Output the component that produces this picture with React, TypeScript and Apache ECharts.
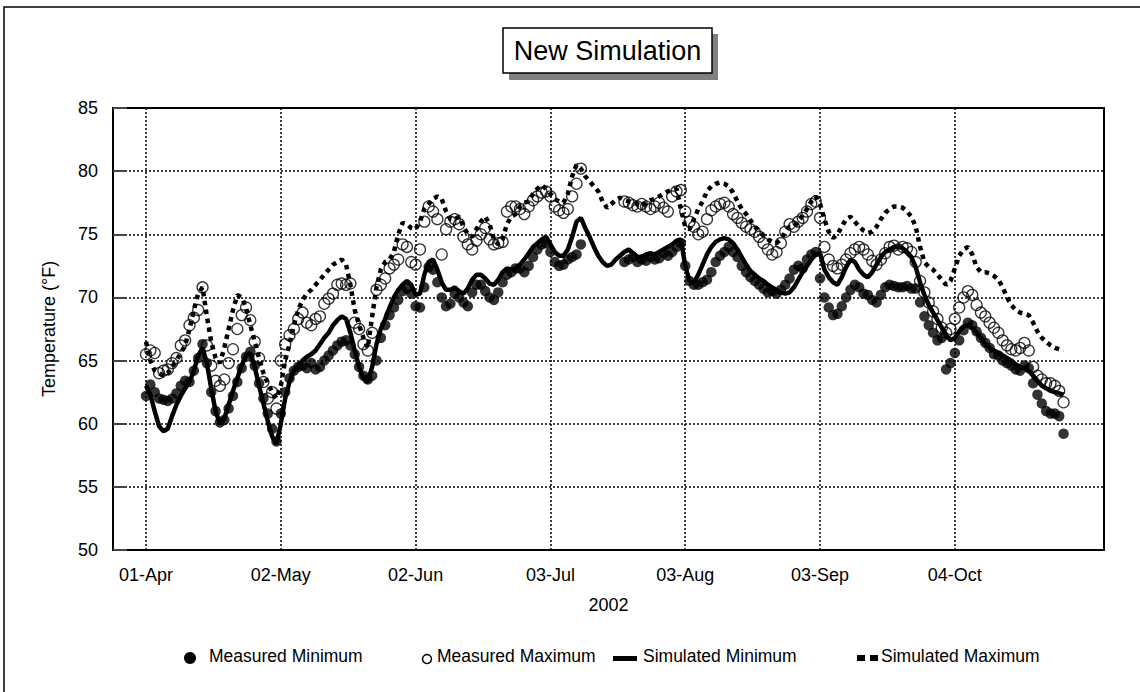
import React, { useEffect, useRef } from "react";
import * as echarts from "echarts";

const FONT = '"Liberation Sans", Arial, sans-serif';
const START = Date.UTC(2002, 3, 1); // day 0 = 01-Apr-2002
const MONTHS = ["Jan", "Feb", "Mar", "Apr", "May", "Jun", "Jul", "Aug", "Sep", "Oct", "Nov", "Dec"];
const tickDays = [0, 31, 62, 93, 124, 155, 186];
const xMin = -7.59;
const xMax = 220.3;

// Daily values (index = days since 01-Apr-2002); null = no measurement
const measuredMin = [
  62.2, 63.1, 62.5, 62.0, 61.9, 61.8, 62.0, 62.4, 63.0, 63.4,
  63.3, 64.2, 65.2, 66.3, 64.8, 62.5, 61.0, 60.1, 60.3, 61.2,
  62.2, 63.3, 64.4, 65.3, 65.7, 64.6, 63.2, 62.0, 60.8, 59.6,
  58.6, 60.8, 62.5, 63.6, 64.2, 64.5, 64.6, 64.4, 64.8, 64.3,
  64.5, 65.0, 65.4, 65.8, 66.2, 66.5, 66.6, 66.2, 65.5, 64.5,
  63.8, 63.5, 63.8, 65.0, 66.8, 67.8, 68.6, 69.2, 69.8, 70.5,
  70.7, 70.3, 69.3, 69.2, 70.8, 72.4, 72.2, 71.2, 70.0, 69.3,
  69.5, 70.3, 70.0, 69.6, 69.3, 70.4, 71.0, 71.0, 70.5, 70.0,
  69.8, 70.4, 71.2, 71.8, 72.0, 72.3, 72.3, 72.0, 72.5, 73.2,
  73.8, 74.2, 74.3, 73.6, 72.8, 72.5, 72.6, 73.0, 73.2, 73.4,
  74.2, null, null, null, null, null, null, null, null, null,
  72.8, 73.0, 73.2, 72.8, 73.0, 72.9, 73.2, 73.0, 73.1, 73.5,
  73.3, 73.6, 74.0, 74.3, 72.5, 71.3, 71.0, 71.0, 71.2, 71.4,
  72.0, 72.8, 73.3, 73.6, 74.0, 73.6, 73.2, 72.5, 72.0, 71.6,
  71.3, 71.0, 70.7, 70.4, 70.5, 70.3, 70.6, 71.0, 71.5, 72.2,
  72.5, 72.3, 73.0, 73.4, 73.6, 71.5, 70.0, 69.2, 68.6, 68.7,
  69.3, 70.0, 70.6, 71.0, 70.8, 70.3, 70.2, 69.8, 69.6, 70.2,
  70.8, 71.0, 70.9, 70.8, 70.8, 70.9, 70.7, 70.7, 69.6, 68.5,
  67.8, 67.2, 66.6, 66.8, 64.3, 64.8, 65.6, 66.6, 67.4, 68.0,
  67.8, 67.3, 66.8, 66.4, 66.0, 65.5, 65.4, 65.0, 64.8, 64.6,
  64.3, 64.2, 64.6, 64.4, 63.2, 62.3, 61.6, 61.0, 60.8, 60.8,
  60.6, 59.2,
];

const measuredMax = [
  65.5, 65.8, 65.6, 64.0, 64.2, 64.3, 64.8, 65.2, 66.2, 66.6,
  67.8, 68.4, 69.0, 70.8, 66.2, 64.6, 63.4, 63.0, 63.5, 64.8,
  65.9, 67.5, 68.6, 69.2, 68.2, 66.5, 65.2, 63.3, 62.0, 62.5,
  61.2, 65.0, 66.3, 67.0, 67.5, 68.3, 68.8, 68.0, 67.8, 68.3,
  68.5, 69.5, 69.9, 70.3, 71.0, 71.1, 71.0, 71.1, 68.0, 67.5,
  66.3, 65.8, 67.2, 70.6, 71.0, 71.5, 72.3, 72.6, 73.0, 74.2,
  74.0, 72.8, 72.6, 73.8, 76.0, 77.2, 76.8, 76.2, 73.4, 75.4,
  76.0, 76.2, 75.8, 74.8, 74.2, 73.8, 74.5, 75.0, 75.5, 74.6,
  74.2, 74.3, 74.4, 76.8, 77.2, 77.2, 77.0, 76.6, 77.2, 77.7,
  78.0, 78.3, 78.4, 78.0, 77.2, 76.9, 76.7, 77.0, 78.0, 79.0,
  80.2, null, null, null, null, null, null, null, null, null,
  77.6, 77.5, 77.3, 77.2, 77.4, 77.2, 77.0, 77.2, 77.5, 77.1,
  76.8, 78.0, 78.4, 78.5, 76.8, 76.0, 75.6, 75.0, 75.2, 76.2,
  76.9, 77.2, 77.4, 77.5, 77.2, 76.6, 76.3, 75.9, 75.6, 75.4,
  75.2, 74.8, 74.3, 73.8, 73.4, 73.6, 74.3, 75.2, 75.8, 75.6,
  76.0, 76.3, 76.8, 77.4, 77.6, 76.3, 74.0, 73.0, 72.5, 72.3,
  72.6, 73.0, 73.5, 73.8, 74.0, 73.8, 73.4, 72.9, 72.6, 73.0,
  73.5, 74.0, 74.1, 73.8, 74.0, 73.9, 73.6, 72.8, 71.3, 70.4,
  69.6, 68.9, 68.3, 67.6, 67.2, 67.5, 68.3, 69.2, 70.0, 70.5,
  70.2, 69.4, 68.8, 68.5, 68.0, 67.6, 67.2, 66.6, 66.2, 65.9,
  65.8, 66.0, 66.4, 65.8, 64.5, 63.8, 63.5, 63.2, 63.2, 63.0,
  62.6, 61.7,
];

const simulatedMin = [
  63.0, 62.3, 61.0, 59.8, 59.4, 59.6, 60.6, 61.5, 62.2, 62.8,
  63.3, 64.2, 65.4, 66.0, 64.8, 62.8, 61.0, 60.0, 60.4, 61.5,
  62.6, 63.6, 64.6, 65.4, 65.6, 64.5, 63.0, 61.6, 60.2, 59.0,
  58.4, 60.0, 62.0, 63.3, 64.2, 64.6, 65.0, 65.3, 65.5, 65.8,
  66.3, 66.8, 67.2, 67.8, 68.2, 68.5, 68.3, 67.2, 65.8, 64.5,
  63.6, 63.3, 64.5, 66.3, 67.5, 68.3, 69.2, 70.0, 70.6, 71.0,
  71.3, 71.0, 70.2, 70.3, 71.8, 72.8, 73.0, 72.2, 71.2, 70.6,
  70.6, 70.8, 70.5, 70.3, 70.7, 71.4, 71.8, 71.8, 71.5, 71.1,
  71.0, 71.4, 72.0, 72.3, 72.2, 72.3, 72.6, 73.0, 73.5, 74.0,
  74.3, 74.6, 74.8, 74.2, 73.6, 73.3, 73.3, 73.8, 74.8, 76.0,
  76.3, 75.5, 74.8, 74.0, 73.3, 72.8, 72.5, 72.6, 73.0, 73.3,
  73.6, 73.8, 73.5, 73.2, 73.2, 73.4, 73.5, 73.4, 73.6, 73.8,
  74.0, 74.2, 74.5, 74.6, 72.5, 71.3, 71.2, 71.8, 72.6, 73.4,
  74.0, 74.4, 74.6, 74.7, 74.6, 74.3, 73.8, 73.2, 72.6, 72.1,
  71.8, 71.5, 71.3, 71.0, 70.8, 70.6, 70.4, 70.3, 70.4, 70.8,
  71.4, 72.0, 72.5, 73.0, 73.4, 73.5, 72.2, 71.6, 71.2, 71.0,
  71.6, 72.4, 73.0, 72.8, 72.2, 71.8, 71.6, 72.0, 72.6, 73.2,
  73.6, 73.8, 74.0, 74.0, 73.9, 73.6, 73.2, 72.4, 71.2, 70.2,
  69.4, 68.8, 68.2, 67.6, 67.0, 66.6, 66.8, 67.3, 67.7, 67.8,
  67.6, 67.2, 66.8, 66.3, 66.0, 65.8, 65.6, 65.4, 65.2, 65.0,
  64.7, 64.5, 64.4, 64.2, 63.8, 63.4, 63.0, 62.8, 62.6, 62.5,
  62.4, 62.3,
];

const simulatedMax = [
  66.5, 65.0, 64.2, 64.0, 63.8, 64.0, 64.5, 65.0, 65.6, 66.2,
  67.5, 69.0, 70.3, 70.8, 68.5, 66.5, 65.2, 64.8, 66.0, 67.5,
  69.0, 70.2, 70.0, 69.2, 67.8, 66.5, 65.2, 64.0, 63.2, 62.5,
  62.0, 63.0, 65.0, 66.3, 67.8, 69.0, 69.8, 70.3, 70.6, 71.0,
  71.4, 71.8, 72.2, 72.6, 72.8, 73.0, 72.6, 71.0, 69.0, 67.8,
  66.8, 66.0, 68.5, 70.8, 72.2, 72.8, 73.0, 73.6, 75.0, 75.9,
  75.8, 75.5, 75.4, 76.0, 77.0, 77.4, 77.8, 78.0, 77.8, 76.8,
  76.2, 76.2, 76.4, 75.6, 75.0, 74.8, 75.4, 76.0, 76.4, 75.8,
  74.6, 74.2, 74.6, 75.8, 76.4, 76.6, 77.2, 77.5, 77.6, 78.2,
  78.6, 78.9, 78.6, 78.2, 77.8, 77.6, 77.5, 78.2, 79.6, 80.5,
  80.2, 79.6, 79.2, 78.8, 78.4, 77.6, 77.1, 77.4, 77.7, 77.9,
  77.7, 77.6, 77.5, 77.4, 77.2, 77.5, 77.7, 77.8, 78.0, 78.2,
  78.4, 78.5, 78.6, 77.0, 75.6, 75.4, 76.2, 77.0, 77.6, 78.4,
  78.8, 79.0, 79.1, 79.0, 78.8, 78.3, 77.6, 77.0, 76.6, 76.1,
  75.6, 75.2, 74.9, 74.6, 74.4, 74.3, 74.6, 75.2, 75.6, 75.6,
  76.0, 76.5, 77.0, 77.6, 78.0, 77.4, 76.2, 75.2, 74.7, 75.0,
  75.6, 76.2, 76.4, 76.0, 75.6, 75.3, 75.1, 75.2, 75.6, 76.2,
  76.7, 77.0, 77.2, 77.2, 77.1, 76.8, 76.4, 75.6, 74.0, 72.8,
  72.4, 72.2, 71.8, 71.4, 71.0, 71.3, 72.3, 73.3, 73.8, 74.0,
  73.4, 72.4, 72.0, 72.0, 71.9, 71.7, 71.4, 70.8, 70.0, 69.4,
  69.0, 68.8, 68.7, 68.6, 68.0, 67.3, 66.8, 66.5, 66.2, 66.0,
  65.9, 65.8,
];

const legendNames = ["Measured Minimum", "Measured Maximum", "Simulated Minimum", "Simulated Maximum"];

function toPairs(arr: (number | null)[]) {
  return arr.map((v, i) => [i, v]);
}

function fmtDay(d: number) {
  const dt = new Date(START + Math.round(d) * 86400000);
  const dd = String(dt.getUTCDate()).padStart(2, "0");
  return dd + "-" + MONTHS[dt.getUTCMonth()];
}

export default function App() {
  const ref = useRef<HTMLDivElement>(null);
  useEffect(() => {
    document.body.style.margin = "0";
    const chart = echarts.init(ref.current!, null, { renderer: "svg" });
    const txt = (x: number, y: number, text: string, size = 17.5) => ({
      type: "text",
      x,
      y,
      style: {
        text,
        font: `${size}px ${FONT}`,
        fill: "#000",
        align: "left",
        verticalAlign: "middle",
        textAlign: "left",
        textVerticalAlign: "middle",
      },
    });
    chart.setOption({
      animation: false,
      backgroundColor: "#fff",
      grid: {
        left: 113,
        top: 108,
        right: 36,
        bottom: 142,
        show: true,
        borderColor: "#000",
        borderWidth: 2,
        backgroundColor: "transparent",
      },
      xAxis: {
        type: "value",
        min: xMin,
        max: xMax,
        axisLine: { show: true, onZero: false, lineStyle: { color: "#000", width: 2 } },
        axisTick: { show: false, customValues: tickDays },
        axisLabel: {
          customValues: tickDays,
          formatter: (v: number) => fmtDay(v),
          fontSize: 18,
          fontFamily: FONT,
          color: "#000",
          margin: 16,
        },
        splitLine: { show: true, lineStyle: { color: "#000", width: 1.5, type: [2, 2] } },
        name: "2002",
        nameLocation: "middle",
        nameGap: 46,
        nameTextStyle: { fontSize: 18, fontFamily: FONT, color: "#000" },
      },
      yAxis: {
        type: "value",
        min: 50,
        max: 85,
        interval: 5,
        axisLine: { show: true, onZero: false, lineStyle: { color: "#000", width: 2 } },
        axisTick: { show: true, inside: true, length: 14, lineStyle: { color: "#444", width: 2 } },
        axisLabel: { fontSize: 18, fontFamily: FONT, color: "#000", margin: 15 },
        splitLine: { show: true, lineStyle: { color: "#000", width: 1.5, type: [2, 2] } },
        name: "Temperature (°F)",
        nameLocation: "middle",
        nameGap: 55,
        nameRotate: 90,
        nameTextStyle: { fontSize: 18, fontFamily: FONT, color: "#000" },
      },
      series: [
        {
          type: "scatter",
          name: legendNames[0],
          data: toPairs(measuredMin),
          symbol: "circle",
          symbolSize: 10.5,
          itemStyle: { color: "#000" },
          z: 2,
        },
        {
          type: "scatter",
          name: legendNames[1],
          data: toPairs(measuredMax),
          symbol: "circle",
          symbolSize: 11,
          itemStyle: { color: "rgba(0,0,0,0)", borderColor: "#000", borderWidth: 1.3 },
          z: 3,
        },
        {
          type: "line",
          name: legendNames[2],
          data: toPairs(simulatedMin),
          symbol: "none",
          lineStyle: { color: "#000", width: 4.5 },
          z: 4,
        },
        {
          type: "line",
          name: legendNames[3],
          data: toPairs(simulatedMax),
          symbol: "none",
          lineStyle: { color: "#000", width: 4.5, type: [4.5, 4.5] },
          z: 5,
        },
      ],
      graphic: [
        {
          type: "rect",
          shape: { x: 4, y: 7, width: 1200, height: 720 },
          style: { fill: "none", stroke: "#000", lineWidth: 1.5 },
          z: -10,
        },
        {
          type: "rect",
          shape: { x: 509, y: 34, width: 209, height: 46 },
          style: { fill: "#808080" },
          z: 10,
        },
        {
          type: "rect",
          shape: { x: 503, y: 28, width: 209, height: 45 },
          style: { fill: "#fff", stroke: "#000", lineWidth: 1.5 },
          z: 11,
        },
        {
          type: "text",
          x: 607.5,
          y: 51,
          z: 12,
          style: {
            text: "New Simulation",
            font: `27px ${FONT}`,
            fill: "#000",
            align: "center",
            verticalAlign: "middle",
            textAlign: "center",
            textVerticalAlign: "middle",
          },
        },
        { type: "circle", shape: { cx: 190, cy: 658, r: 6 }, style: { fill: "#000" } },
        txt(209, 656, legendNames[0]),
        { type: "circle", shape: { cx: 427, cy: 659, r: 4.5 }, style: { fill: "none", stroke: "#000", lineWidth: 1.5 } },
        txt(437, 656, legendNames[1]),
        { type: "rect", shape: { x: 613, y: 656, width: 24, height: 5 }, style: { fill: "#000" } },
        txt(643, 656, legendNames[2]),
        { type: "rect", shape: { x: 857, y: 655, width: 8, height: 6 }, style: { fill: "#000" } },
        { type: "rect", shape: { x: 870, y: 655, width: 8, height: 6 }, style: { fill: "#000" } },
        txt(881, 656, legendNames[3]),
      ],
    });
    return () => chart.dispose();
  }, []);
  return <div ref={ref} style={{ width: 1140, height: 692 }} />;
}
